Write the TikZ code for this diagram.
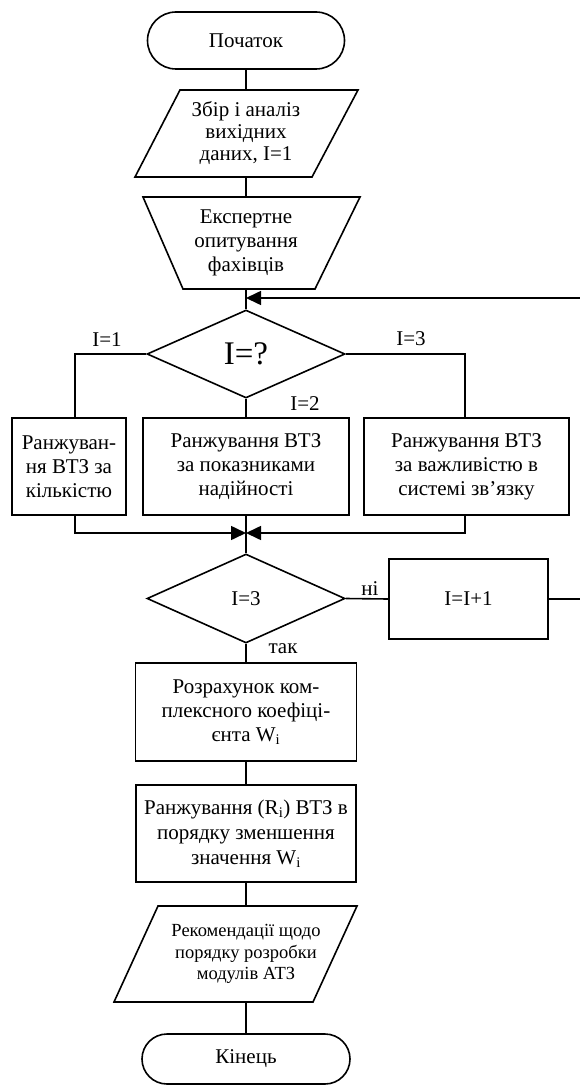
\documentclass[tikz,border=0pt]{standalone}
\usepackage{fontspec}
\setmainfont{Liberation Serif}
\usetikzlibrary{arrows.meta,shapes.geometric,shapes.misc}
\tikzset{
  ln/.style={line width=1.6pt},
  arr/.style={ln,-{Triangle[length=15pt,width=14pt]}},
  txt/.style={font=\fontsize{21pt}{24pt}\selectfont, align=center, inner sep=0pt},
  lbl/.style={font=\fontsize{21pt}{24pt}\selectfont, inner sep=0pt},
  boxx/.style={txt, draw, ln, rectangle},
  term/.style={txt, draw, ln, rounded rectangle},
  dia/.style={txt, draw, ln, diamond},
  ghost/.style={txt, rectangle}
}
\begin{document}
\begin{tikzpicture}[x=1pt,y=-1pt]
\useasboundingbox (0,0) rectangle (579,1086);
% terminal start
\node[term, minimum width=197pt, minimum height=57pt] (start) at (246,40.5) {Початок};
% input parallelogram
\draw[ln] (180,90) -- (358,90) -- (312,177) -- (135,177) -- cycle;
\node[ghost, minimum width=120pt, minimum height=87pt, font=\fontsize{21pt}{22pt}\selectfont] (in1) at (246,133.5) {Збір і аналіз\\вихідних\\даних, I=1};
% manual operation trapezoid
\draw[ln] (143,197) -- (360,197) -- (315,289) -- (183,289) -- cycle;
\node[ghost, minimum width=120pt, minimum height=92pt] (ex) at (246,243) {Експертне\\опитування\\фахівців};
% decision I=?
\node[dia, minimum width=198pt, minimum height=88pt, font=\fontsize{33pt}{36pt}\selectfont] (d1) at (246,354) {I=?};
% three boxes
\node[boxx, minimum width=114pt, minimum height=97pt] (b1) at (69,466.5) {Ранжуван-\\ня ВТЗ за\\кількістю};
\node[boxx, minimum width=206pt, minimum height=97pt] (b2) at (246,466.5) {Ранжування ВТЗ\\за показниками\\надійності};
\node[boxx, minimum width=205pt, minimum height=97pt] (b3) at (466.5,466.5) {Ранжування ВТЗ\\за важливістю в\\системі зв’язку};
\coordinate (m) at (246,533);
\coordinate (j1) at (246,298);
% decision I=3
\node[dia, minimum width=198pt, minimum height=89pt] (d2) at (246,598.5) {I=3};
\node[boxx, minimum width=159pt, minimum height=80pt] (inc) at (468.5,599) {I=I+1};
% computation boxes
\node[boxx, minimum width=221pt, minimum height=98pt] (calc) at (246,712) {Розрахунок ком-\\плексного коефіці-\\єнта W\textsubscript{i}};
\node[boxx, minimum width=220pt, minimum height=97pt, font=\fontsize{21pt}{25pt}\selectfont] (rank) at (246,833.5) {Ранжування (R\textsubscript{i}) ВТЗ в\\порядку зменшення\\значення W\textsubscript{i}};
% output parallelogram
\draw[ln] (158,906) -- (357,906) -- (313,1002) -- (114,1002) -- cycle;
\node[ghost, minimum width=120pt, minimum height=96pt, font=\fontsize{18.5pt}{21.7pt}\selectfont] (out) at (246,954) {Рекомендації щодо\hspace{9pt}\\порядку розробки\\модулів АТЗ};
% terminal end
\node[term, minimum width=208pt, minimum height=50pt] (end) at (246,1059) {Кінець};
% connectors
\draw[ln] (start) -- (in1);
\draw[ln] (in1) -- (ex);
\draw[ln] (ex) -- (d1);
\draw[ln] (d1.west) -| ([xshift=6pt]b1.north);
\draw[ln] (d1.east) -| ([xshift=-1.5pt]b3.north);
\draw[ln] (d1) -- (b2);
\draw[arr] ([xshift=6pt]b1.south) |- (m);
\draw[arr] ([xshift=-1.5pt]b3.south) |- (m);
\draw[ln] (b2) -- (d2);
\draw[ln] (d2.east) -- (inc.west);
\draw[arr] (inc.east) -- ++(36,0) |- (j1);
\draw[ln] (d2) -- (calc);
\draw[ln] (calc) -- (rank);
\draw[ln] (rank) -- (out);
\draw[ln] (out) -- (end);
% labels
\node[lbl] (l1) at (107,340) {I=1};
\node[lbl] (l3) at (411,339) {I=3};
\node[lbl] (l2) at (305,404) {I=2};
\node[lbl] (lno) at (370,589) {ні};
\node[lbl] (lyes) at (283,649) {так};
\end{tikzpicture}
\end{document}
